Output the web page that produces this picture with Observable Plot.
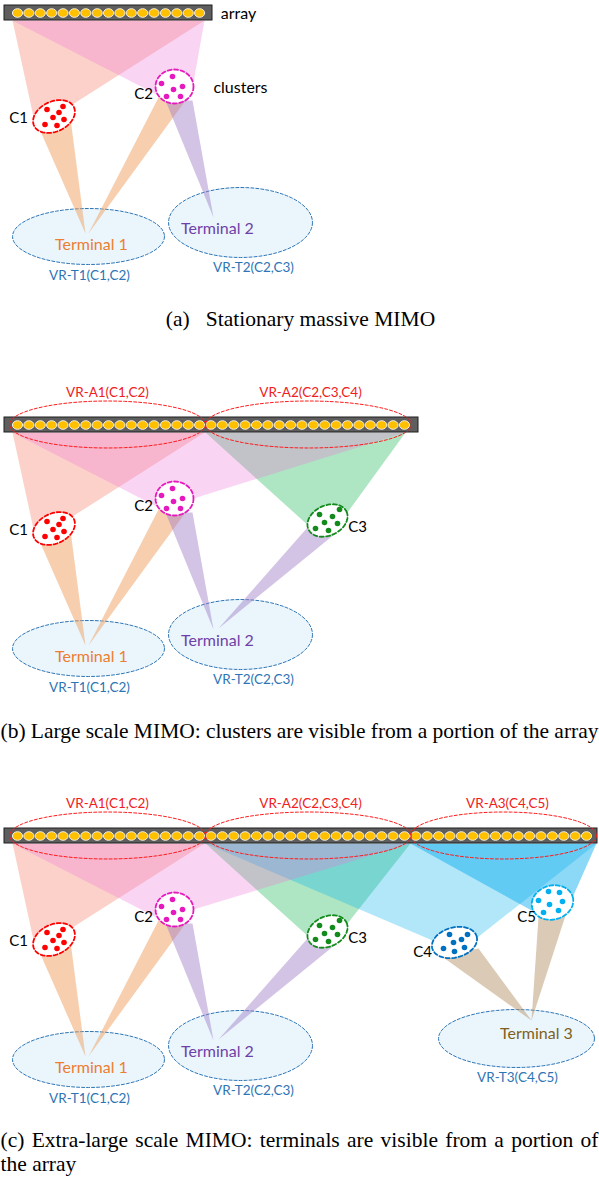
<!DOCTYPE html>
<html><head><meta charset="utf-8">
<script src="https://cdn.jsdelivr.net/npm/d3@7"></script>
<script src="https://cdn.jsdelivr.net/npm/@observablehq/plot@0.6"></script>
<style>body{margin:0;background:#fff}svg{display:block}</style>
</head><body>
<script>
const W = 599, H = 1177;

// Panels (a), (b), (c): vertical offsets of the three sub-figures
const panelIds = ["a", "b", "c"];
const panelTop = [0, 412, 823];

// Antenna array per panel
const barLeft = [4, 4, 4];
const barRight = [212, 418, 597];
const barTop = 5, barBottom = 20;
const elementCount = [17, 35, 51];
const elementFirstX = 17, elementPitch = 11.38, elementY = 12.5;

// Visibility regions of the array (panel, cx, cy, rx, ry)
const vrArrayPanels = ["b", "b", "c", "c", "c"];
const vrArrayCenter = [[107, 12], [308, 12], [107, 12], [308, 12], [503, 12]];
const vrArrayRadii = [[98, 23.5], [103, 23.5], [98, 23.5], [103, 23.5], [93, 23.5]];

// Clusters
const clusterNames = ["C1", "C2", "C3", "C4", "C5"];
const clusterPanels = ["abc", "abc", "bc", "c", "c"];
const clusterCenter = [[53.5, 116], [174, 86], [327, 108], [454, 119], [552, 79]];
const clusterRadii = [[22, 15], [19, 17], [21, 15], [23, 15], [21, 17]];
const clusterTilt = [-25, 0, -25, -15, -15];
const clusterColor = ["#FF0000", "#E619BE", "#138A1C", "#0070C0", "#00B0F0"];
const clusterScatterers = [
  [[-7, -7], [9, -10], [5, -4], [-1, 1], [10, 3], [-9, 8], [3, 9]],
  [[-2, -10], [-13, -3], [-1, 3], [8, 0], [-8, 10], [6, 10]],
  [[-8, -6], [5, -4], [12, -11], [-3, 2], [10, 3], [-12, 8], [1, 10]],
  [[-5, -8], [13, -8], [-1, 0], [7, -3], [-11, 6], [0, 9], [10, 5]],
  [[-4, -11], [7, -10], [-14, -2], [-3, 2], [10, -1], [-9, 10], [6, 8]]
];

// Terminals (visibility regions of the terminals)
const terminalNames = ["Terminal 1", "Terminal 2", "Terminal 3"];
const terminalPanels = ["abc", "abc", "c"];
const terminalCenter = [[88, 236], [240, 222], [516, 215]];
const terminalRadii = [[76, 28], [72, 35], [78, 29]];

// Beams, drawn in this order of kinds
const beamKinds = ["C3 beam", "C4 beam", "C5 beam", "C1 beam", "C2 beam", "to T1", "to T2", "to T3"];
const beamFill = ["#4CC57A", "#00B0F0", "#00A8EE", "#F79A8A", "#F075D8", "#F0A060", "#9E7BC6", "#B8966E"];
const beamOpacity = [0.45, 0.3, 0.45, 0.45, 0.3, 0.5, 0.45, 0.5];
const beamKind = ["C1 beam", "C2 beam", "C2 beam", "C2 beam", "C3 beam", "C3 beam", "C4 beam", "C5 beam",
  "to T1", "to T1", "to T2", "to T2", "to T3", "to T3"];
const beamPanels = ["abc", "a", "b", "c", "b", "c", "c", "c", "abc", "abc", "abc", "bc", "c", "c"];
const beamCorners = [
  [[12, 20], [204, 20], [72, 104], [34, 121]],
  [[12, 20], [204, 20], [193, 82], [158, 95]],
  [[12, 20], [405, 20], [193, 86], [158, 95]],
  [[12, 20], [410, 20], [193, 86], [158, 95]],
  [[205, 20], [405, 20], [347, 100], [310, 115]],
  [[205, 20], [410, 20], [347, 100], [310, 115]],
  [[205, 20], [596, 20], [477, 114], [432, 117]],
  [[410, 20], [596, 20], [572, 74], [533, 88]],
  [[37, 124], [70, 118], [85, 233]],
  [[158, 97], [185, 100], [88, 233]],
  [[165, 100], [192, 100], [213, 217]],
  [[307, 115], [335, 121], [218, 216]],
  [[440, 132], [478, 125], [531, 197]],
  [[538, 94], [566, 89], [531, 197]]
];

// Labels (panel-relative positions)
const labelText = ["array", "clusters", "C1", "C2", "C3", "C4", "C5",
  "Terminal 1", "Terminal 2", "Terminal 3",
  "VR-T1(C1,C2)", "VR-T2(C2,C3)", "VR-T3(C4,C5)",
  "VR-A1(C1,C2)", "VR-A2(C2,C3,C4)", "VR-A3(C4,C5)"];
const labelPanels = ["a", "a", "abc", "abc", "bc", "c", "c", "abc", "abc", "c", "abc", "abc", "c", "bc", "bc", "c"];
const labelPos = [[238, 13], [240, 87], [18, 118], [143, 94], [357, 115], [422, 129], [526, 94],
  [91, 244], [217, 228], [536, 210], [89, 275], [253, 267], [517, 254],
  [107, -20], [310, -20], [507, -20]];
const labelColor = ["#000", "#000", "#000", "#000", "#000", "#000", "#000",
  "#ED7D31", "#7040A8", "#806020", "#2E75B6", "#2E75B6", "#2E75B6",
  "#F02020", "#F02020", "#F02020"];
const labelSize = [16, 16, 15, 15, 15, 15, 15, 16, 16, 16, 13.5, 13.5, 13.5, 13.5, 13.5, 13.5];

// Captions
const captionText = ["(a)\u00a0\u00a0 Stationary massive MIMO",
  "(b) Large scale MIMO: clusters are visible from a portion of the array",
  "(c) Extra-large scale MIMO: terminals are visible from a portion of",
  "the array"];
const captionX = [300, 0, 0, 0];
const captionY = [319, 731, 1140, 1164];
const captionJustify = [false, true, true, false];

// ---------- build tables ----------
const shiftOf = p => panelTop[panelIds.indexOf(p)];

function ring(id, cx, cy, rx, ry, tiltDeg, extra) {
  const th = tiltDeg * Math.PI / 180, rows = [];
  for (let i = 0; i < 72; i++) {
    const t = i / 72 * 2 * Math.PI;
    rows.push({id, ...extra,
      x: cx + rx * Math.cos(t) * Math.cos(th) - ry * Math.sin(t) * Math.sin(th),
      y: cy + rx * Math.cos(t) * Math.sin(th) + ry * Math.sin(t) * Math.cos(th)});
  }
  return rows;
}

const bars = panelIds.map((p, i) => ({x1: barLeft[i], x2: barRight[i], y1: barTop + panelTop[i], y2: barBottom + panelTop[i]}));
const elements = panelIds.flatMap((p, i) => d3.range(elementCount[i]).map(k => ({x: elementFirstX + k * elementPitch, y: elementY + panelTop[i]})));

const vrArrayRows = vrArrayPanels.flatMap((p, i) => ring("vra" + i, vrArrayCenter[i][0], vrArrayCenter[i][1] + shiftOf(p), vrArrayRadii[i][0], vrArrayRadii[i][1], 0, {}));

const clusterRows = [], scattererRows = [];
clusterNames.forEach((n, i) => {
  for (const p of clusterPanels[i]) {
    const [cx, cy] = clusterCenter[i];
    clusterRows.push(...ring(n + p, cx, cy + shiftOf(p), clusterRadii[i][0], clusterRadii[i][1], clusterTilt[i], {color: clusterColor[i]}));
    for (const [dx, dy] of clusterScatterers[i]) scattererRows.push({x: cx + dx, y: cy + dy + shiftOf(p), color: clusterColor[i]});
  }
});

const terminalRows = [];
terminalNames.forEach((n, i) => {
  for (const p of terminalPanels[i]) terminalRows.push(...ring(n + p, terminalCenter[i][0], terminalCenter[i][1] + shiftOf(p), terminalRadii[i][0], terminalRadii[i][1], 0, {}));
});

const beamRows = [];
beamCorners.forEach((pts, i) => {
  for (const p of beamPanels[i]) for (const [x, y] of pts) beamRows.push({id: "b" + i + p, kind: beamKind[i], x, y: y + shiftOf(p)});
});

const labels = [];
labelText.forEach((t, i) => {
  for (const p of labelPanels[i]) labels.push({text: t, x: labelPos[i][0], y: labelPos[i][1] + shiftOf(p), color: labelColor[i], size: labelSize[i]});
});
const captions = captionText.map((t, i) => ({text: t, x: captionX[i], y: captionY[i]}));

const chart = Plot.plot({
  width: W, height: H, margin: 0,
  x: {domain: [0, W], range: [0, W], axis: null},
  y: {domain: [0, H], range: [0, H], axis: null},
  color: {type: "identity"},
  style: {background: "#fff"},
  marks: [
    Plot.line(terminalRows, {x: "x", y: "y", z: "id", curve: "linear-closed", fill: "#EAF6FC", stroke: "#2E75B6", strokeWidth: 1, strokeDasharray: "3,2"}),
    ...beamKinds.map((k, i) => Plot.line(beamRows.filter(r => r.kind === k), {x: "x", y: "y", z: "id", curve: "linear-closed", fill: beamFill[i], fillOpacity: beamOpacity[i], stroke: "none"})),
    Plot.line(clusterRows, {x: "x", y: "y", z: "id", curve: "linear-closed", fill: "#fff", stroke: "color", strokeWidth: 1.8, strokeDasharray: "4,2.5"}),
    Plot.dot(scattererRows, {x: "x", y: "y", r: 2.8, fill: "color", stroke: "none"}),
    Plot.rect(bars, {x1: "x1", x2: "x2", y1: "y1", y2: "y2", fill: "#5E5E5E", stroke: "#1E1E1E", strokeWidth: 1}),
    Plot.dot(elements, {x: "x", y: "y", fill: "#FFC000", stroke: "#F4F4F4", strokeWidth: 0.9,
      symbol: {draw(ctx) { const rx = 5.1, ry = 4.3, k = 0.5523;
        ctx.moveTo(rx, 0); ctx.bezierCurveTo(rx, ry * k, rx * k, ry, 0, ry); ctx.bezierCurveTo(-rx * k, ry, -rx, ry * k, -rx, 0);
        ctx.bezierCurveTo(-rx, -ry * k, -rx * k, -ry, 0, -ry); ctx.bezierCurveTo(rx * k, -ry, rx, -ry * k, rx, 0); ctx.closePath(); }}}),
    Plot.line(vrArrayRows, {x: "x", y: "y", z: "id", curve: "linear-closed", fill: "none", stroke: "#FF1A1A", strokeWidth: 1, strokeDasharray: "3,2"}),
    Plot.text(labels, {x: "x", y: "y", text: "text", fill: "color", fontSize: d => d.size, fontFamily: "Lato", textAnchor: "middle"}),
    Plot.text(captions.slice(0, 1), {x: "x", y: "y", text: "text", fill: "#000", fontSize: 21.5, fontFamily: "Liberation Serif", textAnchor: "middle"}),
    Plot.text(captions.slice(1), {x: "x", y: "y", text: "text", fill: "#000", fontSize: 21.5, fontFamily: "Liberation Serif", textAnchor: "start"})
  ]
});
document.body.append(chart);

// justify caption lines across the full width
chart.querySelectorAll("text").forEach(t => {
  const i = captionText.indexOf(t.textContent);
  if (i >= 0 && captionJustify[i]) {
    const len = t.getComputedTextLength();
    const gaps = (t.textContent.match(/[ \u00a0]/g) || []).length;
    t.style.wordSpacing = ((W - 1 - len) / gaps) + "px";
  }
});
</script>
</body></html>
